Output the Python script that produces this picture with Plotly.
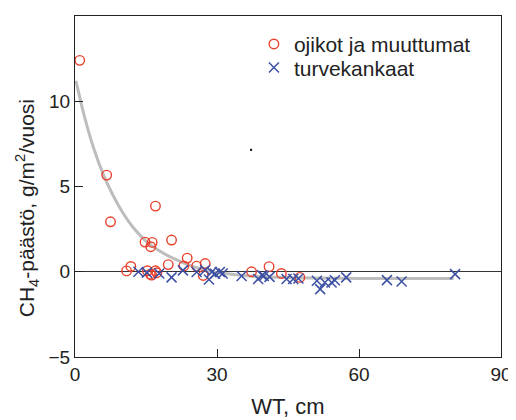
import plotly.graph_objects as go

# ojikot ja muuttumat (red circles)
oj_x = [1.0, 6.7, 7.5, 17.0, 14.8, 16.3, 16.0, 20.4, 11.8, 10.9, 15.3, 15.9, 17.0, 17.3, 16.2,
        19.7, 23.7, 23.0, 25.7, 27.5, 27.1, 37.3, 41.0, 43.6, 47.5]
oj_y = [12.4, 5.67, 2.93, 3.85, 1.74, 1.72, 1.47, 1.86, 0.31, 0.05, 0.06, -0.14, 0.06, -0.06, -0.2,
        0.42, 0.80, 0.34, 0.33, 0.48, -0.22, 0.0, 0.30, -0.10, -0.33]

# turvekankaat (blue crosses)
tu_x = [13.4, 15.2, 17.8, 20.4, 22.8, 25.7, 27.5, 28.3, 28.9, 29.6, 30.6, 31.2, 35.2, 38.7,
        39.5, 39.9, 41.1, 44.7, 46.1, 47.2, 51.1, 51.8, 52.8, 54.2, 54.9, 57.3, 65.9, 69.0, 80.3]
tu_y = [0.0, -0.05, -0.1, -0.33, 0.08, -0.02, 0.1, -0.45, -0.02, -0.12, -0.02, -0.1, -0.25, -0.42,
        -0.2, -0.25, -0.3, -0.43, -0.43, -0.4, -0.53, -1.02, -0.63, -0.63, -0.5, -0.33, -0.49, -0.57, -0.14]

# fitted curve
fit_x = [0.2, 2, 4, 6, 8, 10, 12, 15, 18, 21, 25, 30, 35, 40, 50, 60, 70, 80]
fit_y = [11.2, 9.1, 7.2, 5.7, 4.5, 3.5, 2.7, 1.8, 1.2, 0.75, 0.3, -0.05, -0.2, -0.3, -0.37, -0.39, -0.4, -0.4]

# stray dot
dot_x = [37.2]
dot_y = [7.15]

x_ticks = [0, 30, 60, 90]
y_ticks = [-5, 0, 5, 10, 15]

font = "Liberation Sans, Arial, sans-serif"

fig = go.Figure()
fig.add_trace(go.Scatter(x=fit_x, y=fit_y, mode="lines", line=dict(color="#bdbdbd", width=3, shape="spline"),
                         showlegend=False, hoverinfo="skip"))
fig.add_trace(go.Scatter(x=oj_x, y=oj_y, mode="markers", name="ojikot ja muuttumat", legend="legend",
                         marker=dict(symbol="circle-open", size=9.5, color="#e8412c", line=dict(width=1.4, color="#e8412c"))))
fig.add_trace(go.Scatter(x=tu_x, y=tu_y, mode="markers", name="turvekankaat", legend="legend2",
                         marker=dict(symbol="x-thin-open", size=10, color="#3b4fa3", line=dict(width=1.5, color="#3b4fa3"))))
fig.add_trace(go.Scatter(x=dot_x, y=dot_y, mode="markers", showlegend=False,
                         marker=dict(symbol="square", size=2, color="black")))

leg_common = dict(xanchor="left", yanchor="middle", bgcolor="rgba(0,0,0,0)",
                  font=dict(size=21, family=font), itemwidth=30)

fig.update_layout(
    width=508, height=412,
    margin=dict(l=67, r=15, t=8, b=63),
    paper_bgcolor="white", plot_bgcolor="white",
    font=dict(family=font, size=18, color="#222"),
    legend=dict(x=0.42, y=0.917, **leg_common),
    legend2=dict(x=0.42, y=0.848, **leg_common),
    xaxis=dict(range=[0, 90], tickvals=x_ticks, ticks="inside", ticklen=8, tickwidth=1, tickcolor="#222",
               showline=True, linecolor="#222", linewidth=1.3, mirror=True, showgrid=False, zeroline=False,
               automargin=False,
               title=dict(text="WT, cm", font=dict(size=22), standoff=14), tickfont=dict(size=19)),
    yaxis=dict(range=[-5, 15], tickvals=y_ticks, ticks="inside", ticklen=8, tickwidth=1, tickcolor="#222",
               showline=True, linecolor="#222", linewidth=1.3, mirror=True, showgrid=False,
               zeroline=True, zerolinecolor="#333", zerolinewidth=1, automargin=False,
               tickfont=dict(size=19)),
    annotations=[dict(text="CH<sub>4</sub>-päästö, g/m<sup>2</sup>/vuosi", textangle=-90,
                      xref="paper", yref="paper", x=-0.112, y=0.437, xanchor="center", yanchor="middle",
                      showarrow=False, font=dict(size=21, family=font, color="#222"))],
)

fig.write_html("out.html")
